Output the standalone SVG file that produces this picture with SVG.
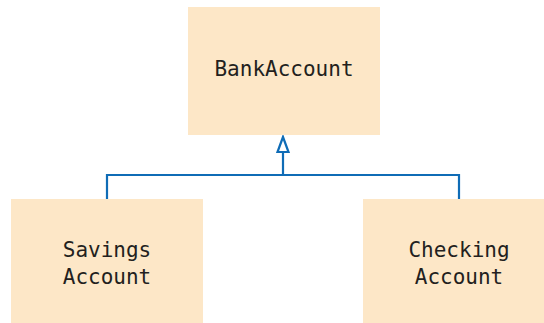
<svg xmlns="http://www.w3.org/2000/svg" width="544" height="323" viewBox="0 0 544 323">
<style>
.box{fill:#fde7c7;stroke:none}
.lbl{font-family:"DejaVu Sans Mono",monospace;font-size:21px;fill:#231f20;text-anchor:middle}
.conn{fill:none;stroke:#0f6cb6;stroke-width:2.2}
</style>
<g id="connectors">
<path class="conn" d="M107,199 V175 H459 V199 M283,175 V152"/>
<polygon points="283,137 277.5,152 288.5,152" fill="#fff" stroke="#0f6cb6" stroke-width="2.2"/>
</g>
<g id="BankAccount">
<rect class="box" x="188" y="7" width="192" height="128"/>
<text class="lbl" x="284" y="76">BankAccount</text>
</g>
<g id="SavingsAccount">
<rect class="box" x="11" y="199" width="192" height="124"/>
<text class="lbl" x="107" y="257">Savings</text>
<text class="lbl" x="107" y="284">Account</text>
</g>
<g id="CheckingAccount">
<rect class="box" x="363" y="199" width="181" height="124"/>
<text class="lbl" x="459" y="257">Checking</text>
<text class="lbl" x="459" y="284">Account</text>
</g>
</svg>
